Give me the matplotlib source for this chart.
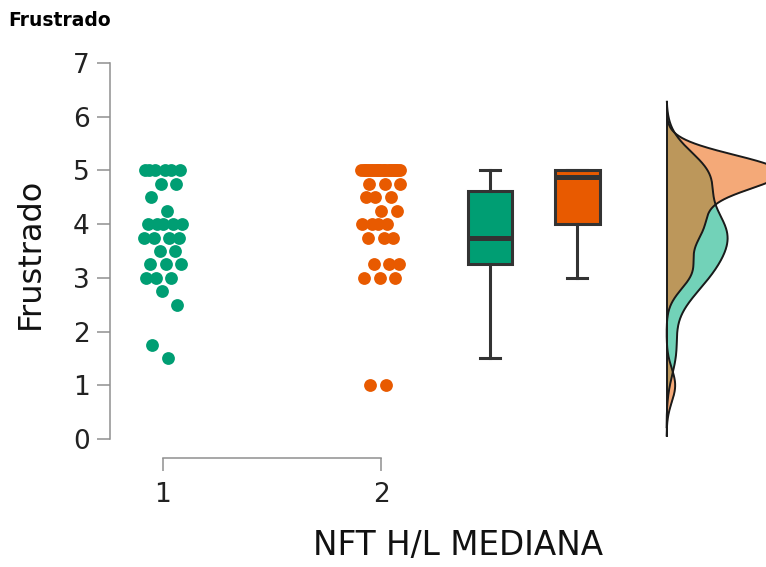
import numpy as np
import matplotlib.pyplot as plt

# Puntuaciones de "Frustrado" por grupo de NFT H/L (mediana)
grupos = [1, 2]
grupo1 = [1.5, 1.75, 2.5, 2.75, 3.0, 3.0, 3.0, 3.25, 3.25, 3.25, 3.5, 3.5,
          3.75, 3.75, 3.75, 3.75, 4.0, 4.0, 4.0, 4.0, 4.0, 4.25, 4.5,
          4.75, 4.75, 5.0, 5.0, 5.0, 5.0, 5.0, 5.0]
grupo2 = [1.0, 1.0, 3.0, 3.0, 3.0, 3.25, 3.25, 3.25, 3.75, 3.75, 3.75,
          4.0, 4.0, 4.0, 4.0, 4.25, 4.25, 4.5, 4.5, 4.5,
          4.75, 4.75, 4.75] + [5.0] * 23
yticks = [0, 1, 2, 3, 4, 5, 6, 7]

verde = '#009E73'
naranja = '#E85A00'
verde_dens = '#14B48A'
naranja_dens = '#EE711E'
gris = '#8f8f8f'
oscuro = '#333333'

plt.rcParams['font.family'] = 'DejaVu Sans'


def dispersion(valores, centro, ancho=0.093):
    # desplazamiento horizontal determinista (secuencia de razon aurea)
    n = len(valores)
    frac = (np.arange(1, n + 1) * 0.6180339887) % 1.0
    return centro + (2 * frac - 1) * ancho


def densidad(valores):
    # KDE gaussiana con ancho de banda de Silverman (bw.nrd0)
    v = np.asarray(valores, dtype=float)
    n = len(v)
    q75, q25 = np.percentile(v, [75, 25])
    bw = 0.9 * min(v.std(ddof=1), (q75 - q25) / 1.34) * n ** -0.2
    y = np.linspace(v.min() - 3 * bw, v.max() + 3 * bw, 512)
    z = (y[:, None] - v[None, :]) / bw
    d = np.exp(-0.5 * z ** 2).sum(axis=1) / (n * bw * np.sqrt(2 * np.pi))
    return y, d


fig = plt.figure(figsize=(7.66, 5.67), dpi=100)
ax = fig.add_axes([110 / 766, 109 / 567, 515 / 766, 403 / 567])
ax_d = fig.add_axes([665 / 766, 109 / 567, 101 / 766, 403 / 567], sharey=ax)

# puntos
ax.scatter(dispersion(grupo1, grupos[0]), grupo1, s=85, color=verde,
           linewidths=0, zorder=3)
ax.scatter(dispersion(grupo2, grupos[1]), grupo2, s=85, color=naranja,
           linewidths=0, zorder=3)

# cajas
bp = ax.boxplot([grupo1, grupo2], positions=[2.5, 2.9], widths=0.206,
                patch_artist=True, showfliers=False, manage_ticks=False,
                capwidths=0.092,
                boxprops=dict(linewidth=2.2, edgecolor=oscuro),
                medianprops=dict(linewidth=3.6, color=oscuro),
                whiskerprops=dict(linewidth=2.2, color=oscuro),
                capprops=dict(linewidth=2.2, color=oscuro))
for caja, col in zip(bp['boxes'], [verde, naranja]):
    caja.set_facecolor(col)

ax.set_xlim(0.757, 3.119)
ax.set_ylim(-0.354, 7.15)
ax.set_xticks(grupos)
ax.set_xticklabels([str(g) for g in grupos])
ax.set_yticks(yticks)
for lado in ['top', 'right']:
    ax.spines[lado].set_visible(False)
ax.spines['left'].set_bounds(0, 7)
ax.spines['bottom'].set_bounds(1, 2)
for lado in ['left', 'bottom']:
    ax.spines[lado].set_color(gris)
    ax.spines[lado].set_linewidth(1.1)
ax.tick_params(axis='both', direction='out', length=9.5, width=1.1,
               color=gris, labelsize=19, labelcolor='#222222')
ax.tick_params(axis='y', pad=5)
ax.tick_params(axis='x', pad=8)

# densidades
yg, dg = densidad(grupo1)
yn, dn = densidad(grupo2)
ax_d.fill_betweenx(yg, 0, dg, color=verde_dens, alpha=0.6, linewidth=0)
ax_d.plot(dg, yg, color='#1a1a1a', lw=1.4)
ax_d.fill_betweenx(yn, 0, dn, color=naranja_dens, alpha=0.6, linewidth=0)
ax_d.plot(dn, yn, color='#1a1a1a', lw=1.4)
ax_d.plot([0, 0], [min(yg[0], yn[0]), max(yg[-1], yn[-1])],
          color='#1a1a1a', lw=1.4)
ax_d.set_xlim(-0.01, dg.max() * 101 / 62)
ax_d.axis('off')

fig.text(30 / 766, 1 - 253 / 567, 'Frustrado', rotation=90, fontsize=23,
         ha='center', va='center', color='#111111')
fig.text(458 / 766, 1 - 546 / 567, 'NFT H/L MEDIANA', fontsize=23.5,
         ha='center', va='center', color='#111111')
fig.text(8 / 766, 1 - 20 / 567, 'Frustrado', fontsize=13.5,
         fontweight='bold', ha='left', va='center')

fig.savefig('out.png', dpi=100)
